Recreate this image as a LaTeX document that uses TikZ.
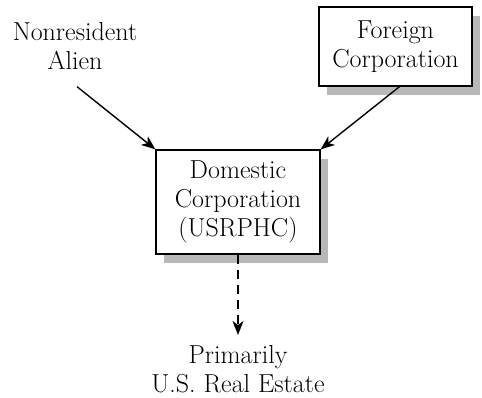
\documentclass[tikz,border=0pt]{standalone}
\usetikzlibrary{arrows.meta,shadows}
\begin{document}
\begin{tikzpicture}[x=1pt,y=-1pt,
  lbl/.style={align=center,font=\fontsize{26}{29}\selectfont,inner sep=0pt},
  boxed/.style={lbl,draw,line width=1.3pt,fill=white,
    drop shadow={shadow xshift=8pt,shadow yshift=-9pt,fill=black!28,opacity=1}},
  link/.style={line width=1.4pt,-{Stealth[length=14pt,width=11pt,inset=4pt]}}]
  \useasboundingbox (0,0) rectangle (482,398);
  % sources
  \node[lbl,anchor=north] (na) at (75,22) {Nonresident\\Alien};
  \node[boxed,minimum width=153pt,minimum height=79pt] (fc) at (395.5,46.5) {Foreign\\Corporation};
  % holding corporation
  \node[boxed,minimum width=164pt,minimum height=104pt] (dc) at (238,202) {Domestic\\Corporation\\(USRPHC)};
  % underlying property
  \node[lbl,anchor=north] (re) at (238,345) {Primarily\\U.S. Real Estate};
  \coordinate (nas) at ([xshift=2pt,yshift=-17pt]na.south);
  \coordinate (fcs) at ([xshift=4pt]fc.south);
  \draw[link] (nas) -- (dc.north west);
  \draw[link] (fcs) -- (dc.north east);
  \draw[link,dash pattern=on 9pt off 6pt,shorten >=10pt] (dc.south) -- (re.north);
\end{tikzpicture}
\end{document}
